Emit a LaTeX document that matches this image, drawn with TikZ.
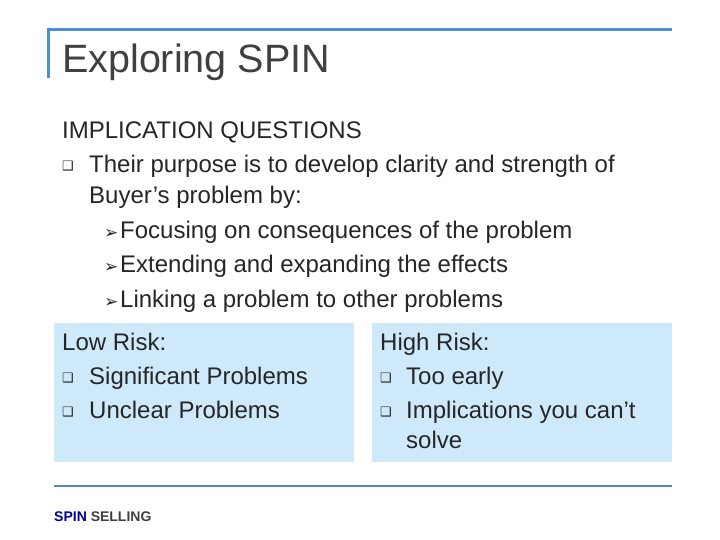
\documentclass[tikz,border=0pt]{standalone}
\usepackage{fontspec}
\setmainfont{Liberation Sans}
\newfontfamily\sym{DejaVu Sans}
\definecolor{pan}{RGB}{205,233,250}
\begin{document}
\begin{tikzpicture}[x=1pt,y=-1pt,
  txt/.style={anchor=base west,inner sep=0pt,font=\fontsize{24}{28}\selectfont,text=black!85},
  sq/.style={anchor=base west,inner sep=0pt,font=\sym\fontsize{13}{14}\selectfont,text=black!85},
  arr/.style={anchor=base west,inner sep=0pt,font=\sym\fontsize{17}{17}\selectfont,text=black!85},
  panel/.style={fill=pan,draw=none}]
\useasboundingbox (0,0) rectangle (720,540);
\fill[white] (0,0) rectangle (720,540);
\coordinate (tl) at (48,30); \coordinate (tr) at (672,30); \coordinate (bl) at (48,78);
\draw[line width=3pt,color={rgb,255:red,74;green,144;blue,217}] (bl) -- (tl) -- (tr);
\node[anchor=base west,inner sep=0pt,font=\fontsize{39.5}{44}\selectfont,text=black!75] (title) at (62,73) {Exploring SPIN};
\node[txt] (h) at (62,139) {IMPLICATION QUESTIONS};
\node[sq] (b1) at (62,171) {❑};
\node[txt] (t1) at (89,173) {Their purpose is to develop clarity and strength of};
\node[txt] (t1b) at (89,204) {Buyer’s problem by:};
\node[arr] (a1) at (104,238) {➢};
\node[txt] (s1) at (120,238) {Focusing on consequences of the problem};
\node[arr] (a2) at (104,272) {➢};
\node[txt] (s2) at (120,272) {Extending and expanding the effects};
\node[arr] (a3) at (104,307) {➢};
\node[txt] (s3) at (120,307) {Linking a problem to other problems};
\path[panel] (54,323) rectangle (354,462);
\path[panel] (372,323) rectangle (672,462);
\node[txt] (lr) at (62,350) {Low Risk:};
\node[sq] (lb1) at (62,382) {❑};
\node[txt] (l1) at (89,384) {Significant Problems};
\node[sq] (lb2) at (62,416) {❑};
\node[txt] (l2) at (89,418) {Unclear Problems};
\node[txt] (hr) at (380,350) {High Risk:};
\node[sq] (hb1) at (380,382) {❑};
\node[txt] (h1) at (406,384) {Too early};
\node[sq] (hb2) at (380,416) {❑};
\node[txt] (h2) at (406,418) {Implications you can’t};
\node[txt] (h2b) at (406,448) {solve};
\coordinate (fl) at (54,486); \coordinate (fr) at (672,486);
\draw[line width=2pt,color={rgb,255:red,85;green,140;blue,170}] (fl) -- (fr);
\node[anchor=base west,inner sep=0pt,font=\bfseries\fontsize{14}{16}\selectfont] (foot) at (54,521) {\textcolor{blue!60!black}{SPIN} \textcolor{black!75}{SELLING}};
\end{tikzpicture}
\end{document}
